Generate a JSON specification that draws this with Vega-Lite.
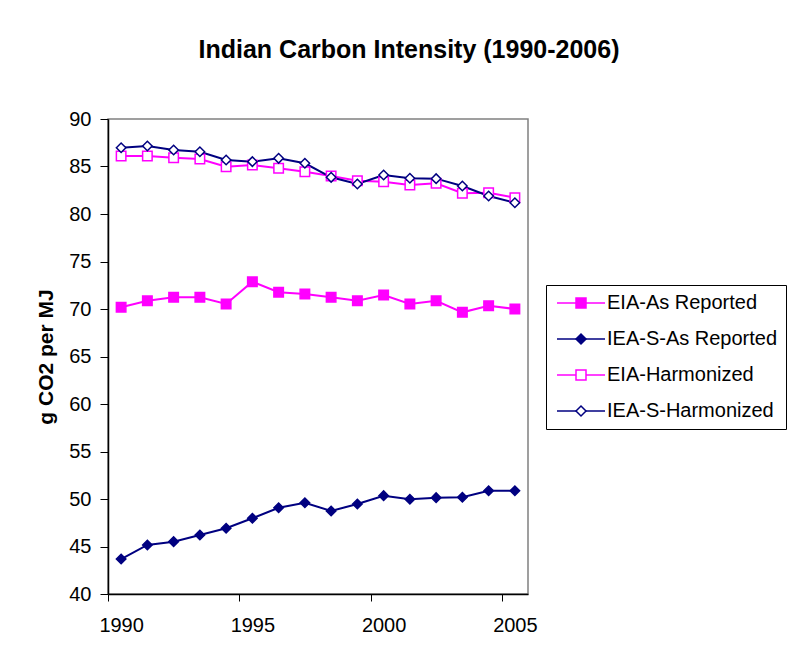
{
  "$schema": "https://vega.github.io/schema/vega-lite/v6.json",
  "width": 420,
  "height": 475,
  "autosize": {"type": "none"},
  "padding": {"left": 108, "top": 119, "right": 265, "bottom": 65},
  "background": "white",
  "config": {
    "font": "Liberation Sans",
    "view": {"stroke": "#808080", "strokeWidth": 1.5},
    "axis": {
      "grid": false,
      "domainColor": "black",
      "domainWidth": 1.5,
      "tickColor": "black",
      "tickWidth": 1,
      "labelColor": "black",
      "titleColor": "black",
      "labelFont": "Liberation Sans",
      "titleFont": "Liberation Sans",
      "labelFontSize": 20
    }
  },
  "title": {
    "text": "Indian Carbon Intensity (1990-2006)",
    "font": "Liberation Sans",
    "fontSize": 25,
    "fontWeight": "bold",
    "color": "black",
    "anchor": "middle",
    "dx": 91,
    "offset": 46
  },
  "data": {
    "values": [
      {"year": 1990, "series": "EIA-As Reported", "value": 70.18},
      {"year": 1991, "series": "EIA-As Reported", "value": 70.87},
      {"year": 1992, "series": "EIA-As Reported", "value": 71.23},
      {"year": 1993, "series": "EIA-As Reported", "value": 71.23},
      {"year": 1994, "series": "EIA-As Reported", "value": 70.53},
      {"year": 1995, "series": "EIA-As Reported", "value": 72.87},
      {"year": 1996, "series": "EIA-As Reported", "value": 71.76},
      {"year": 1997, "series": "EIA-As Reported", "value": 71.58},
      {"year": 1998, "series": "EIA-As Reported", "value": 71.23},
      {"year": 1999, "series": "EIA-As Reported", "value": 70.87},
      {"year": 2000, "series": "EIA-As Reported", "value": 71.47},
      {"year": 2001, "series": "EIA-As Reported", "value": 70.53},
      {"year": 2002, "series": "EIA-As Reported", "value": 70.87},
      {"year": 2003, "series": "EIA-As Reported", "value": 69.65},
      {"year": 2004, "series": "EIA-As Reported", "value": 70.35},
      {"year": 2005, "series": "EIA-As Reported", "value": 70.0},
      {"year": 1990, "series": "IEA-S-As Reported", "value": 43.68},
      {"year": 1991, "series": "IEA-S-As Reported", "value": 45.16},
      {"year": 1992, "series": "IEA-S-As Reported", "value": 45.51},
      {"year": 1993, "series": "IEA-S-As Reported", "value": 46.21},
      {"year": 1994, "series": "IEA-S-As Reported", "value": 46.92},
      {"year": 1995, "series": "IEA-S-As Reported", "value": 47.97},
      {"year": 1996, "series": "IEA-S-As Reported", "value": 49.08},
      {"year": 1997, "series": "IEA-S-As Reported", "value": 49.61},
      {"year": 1998, "series": "IEA-S-As Reported", "value": 48.74},
      {"year": 1999, "series": "IEA-S-As Reported", "value": 49.47},
      {"year": 2000, "series": "IEA-S-As Reported", "value": 50.35},
      {"year": 2001, "series": "IEA-S-As Reported", "value": 49.97},
      {"year": 2002, "series": "IEA-S-As Reported", "value": 50.14},
      {"year": 2003, "series": "IEA-S-As Reported", "value": 50.18},
      {"year": 2004, "series": "IEA-S-As Reported", "value": 50.87},
      {"year": 2005, "series": "IEA-S-As Reported", "value": 50.87},
      {"year": 1990, "series": "EIA-Harmonized", "value": 86.1},
      {"year": 1991, "series": "EIA-Harmonized", "value": 86.1},
      {"year": 1992, "series": "EIA-Harmonized", "value": 85.93},
      {"year": 1993, "series": "EIA-Harmonized", "value": 85.79},
      {"year": 1994, "series": "EIA-Harmonized", "value": 84.98},
      {"year": 1995, "series": "EIA-Harmonized", "value": 85.16},
      {"year": 1996, "series": "EIA-Harmonized", "value": 84.81},
      {"year": 1997, "series": "EIA-Harmonized", "value": 84.45},
      {"year": 1998, "series": "EIA-Harmonized", "value": 84.0},
      {"year": 1999, "series": "EIA-Harmonized", "value": 83.51},
      {"year": 2000, "series": "EIA-Harmonized", "value": 83.4},
      {"year": 2001, "series": "EIA-Harmonized", "value": 83.05},
      {"year": 2002, "series": "EIA-Harmonized", "value": 83.23},
      {"year": 2003, "series": "EIA-Harmonized", "value": 82.18},
      {"year": 2004, "series": "EIA-Harmonized", "value": 82.24},
      {"year": 2005, "series": "EIA-Harmonized", "value": 81.72},
      {"year": 1990, "series": "IEA-S-Harmonized", "value": 86.98},
      {"year": 1991, "series": "IEA-S-Harmonized", "value": 87.16},
      {"year": 1992, "series": "IEA-S-Harmonized", "value": 86.74},
      {"year": 1993, "series": "IEA-S-Harmonized", "value": 86.56},
      {"year": 1994, "series": "IEA-S-Harmonized", "value": 85.68},
      {"year": 1995, "series": "IEA-S-Harmonized", "value": 85.51},
      {"year": 1996, "series": "IEA-S-Harmonized", "value": 85.86},
      {"year": 1997, "series": "IEA-S-Harmonized", "value": 85.34},
      {"year": 1998, "series": "IEA-S-Harmonized", "value": 83.86},
      {"year": 1999, "series": "IEA-S-Harmonized", "value": 83.16},
      {"year": 2000, "series": "IEA-S-Harmonized", "value": 84.11},
      {"year": 2001, "series": "IEA-S-Harmonized", "value": 83.76},
      {"year": 2002, "series": "IEA-S-Harmonized", "value": 83.72},
      {"year": 2003, "series": "IEA-S-Harmonized", "value": 82.95},
      {"year": 2004, "series": "IEA-S-Harmonized", "value": 81.9},
      {"year": 2005, "series": "IEA-S-Harmonized", "value": 81.19}
    ]
  },
  "encoding": {
    "x": {
      "field": "year",
      "type": "quantitative",
      "scale": {"domain": [1989.5, 2005.5], "nice": false, "zero": false},
      "axis": {
        "title": null,
        "values": [1990, 1995, 2000, 2005],
        "format": "d",
        "tickSize": 7,
        "tickOffset": -13.125,
        "labelOffset": 13.125,
        "labelPadding": 14
      }
    },
    "y": {
      "field": "value",
      "type": "quantitative",
      "scale": {"domain": [40, 90], "nice": false, "zero": false},
      "axis": {
        "title": "g CO2 per MJ",
        "titleFontSize": 21,
        "titleFontWeight": "bold",
        "titlePadding": 12,
        "values": [40, 45, 50, 55, 60, 65, 70, 75, 80, 85, 90],
        "tickSize": 8,
        "labelPadding": 9
      }
    }
  },
  "layer": [
    {
      "mark": {"type": "line", "strokeWidth": 2},
      "encoding": {
        "color": {
          "field": "series",
          "type": "nominal",
          "scale": {
            "domain": ["EIA-As Reported", "IEA-S-As Reported", "EIA-Harmonized", "IEA-S-Harmonized"],
            "range": ["#FF00FF", "#000080", "#FF00FF", "#000080"]
          },
          "legend": {
            "title": null,
            "orient": "none",
            "legendX": 438,
            "legendY": 166,
            "strokeColor": "black",
            "fillColor": "white",
            "padding": 8,
            "symbolType": "M-4.8,0H4.8",
            "symbolSize": 100,
            "symbolStrokeWidth": 1.5,
            "symbolOffset": 17,
            "symbolOpacity": 1,
            "labelOffset": 16,
            "labelFont": "Liberation Sans",
            "labelFontSize": 20,
            "labelColor": "black",
            "labelLimit": 400,
            "rowPadding": 16
          }
        }
      }
    },
    {
      "mark": {"type": "point", "size": 90, "strokeWidth": 1.5, "opacity": 1, "filled": true},
      "encoding": {
        "stroke": {
          "field": "series",
          "type": "nominal",
          "scale": {
            "domain": ["EIA-As Reported", "IEA-S-As Reported", "EIA-Harmonized", "IEA-S-Harmonized", "EIA-As Reported"],
            "range": ["#FF00FF", "#000080", "#FF00FF", "#000080"]
          },
          "legend": {
            "title": null,
            "orient": "none",
            "legendX": 438,
            "legendY": 166,
            "strokeColor": null,
            "fillColor": null,
            "padding": 8,
            "symbolSize": 100,
            "symbolStrokeWidth": 1.5,
            "symbolOffset": 17,
            "symbolOpacity": 1,
            "labelOffset": 16,
            "labelFont": "Liberation Sans",
            "labelFontSize": 20,
            "labelColor": "rgba(0,0,0,0)",
            "labelLimit": 400,
            "rowPadding": 16
          }
        },
        "fill": {
          "field": "series",
          "type": "nominal",
          "scale": {
            "domain": ["EIA-As Reported", "IEA-S-As Reported", "EIA-Harmonized", "IEA-S-Harmonized", "EIA-As Reported"],
            "range": ["#FF00FF", "#000080", "white", "white"]
          }
        },
        "shape": {
          "field": "series",
          "type": "nominal",
          "scale": {
            "domain": ["EIA-As Reported", "IEA-S-As Reported", "EIA-Harmonized", "IEA-S-Harmonized", "EIA-As Reported"],
            "range": ["square", "diamond", "square", "diamond"]
          }
        }
      }
    }
  ]
}
